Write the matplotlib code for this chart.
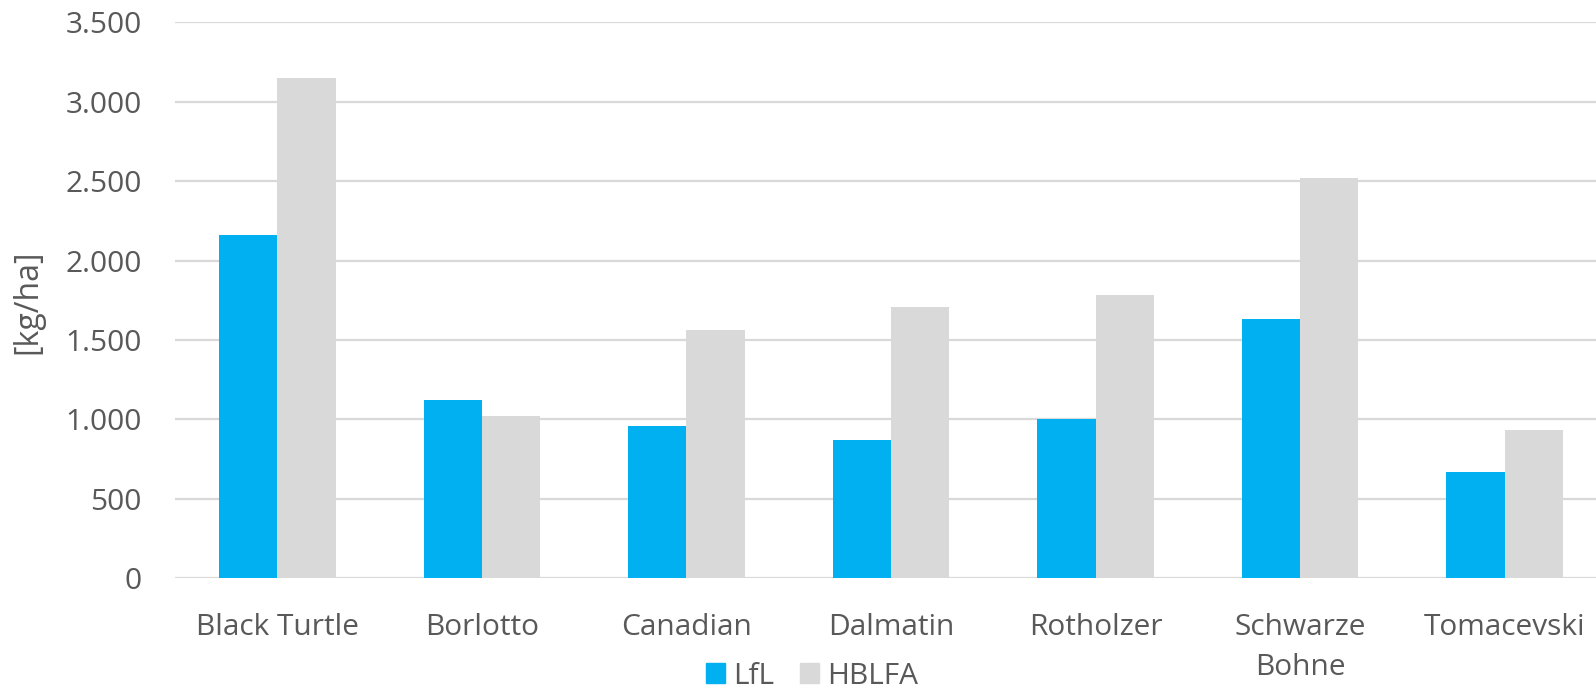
import matplotlib
matplotlib.use("Agg")
import matplotlib.pyplot as plt
import numpy as np
from matplotlib.ticker import FuncFormatter
from matplotlib.patches import Patch

categories = ["Black Turtle", "Borlotto", "Canadian", "Dalmatin", "Rotholzer", "Schwarze\nBohne", "Tomacevski"]
lfl = [2160, 1120, 960, 870, 1000, 1630, 670]
hblfa = [3150, 1020, 1560, 1710, 1780, 2520, 930]
series_names = ["LfL", "HBLFA"]
y_label = "[kg/ha]"

text_color = "#595959"
grid_color = "#D9D9D9"
colors = ["#00B0F0", "#D9D9D9"]

plt.rcParams["font.family"] = ["Open Sans", "DejaVu Sans"]
fs = 21.5

W, H = 1596, 690
fig = plt.figure(figsize=(W / 100, H / 100), dpi=100)
left, right = 175 / W, 1607 / W
bottom, top = 1 - 578 / H, 1 - 22.4 / H
ax = fig.add_axes([left, bottom, right - left, top - bottom])

x = np.arange(len(categories))
bw = 0.285
ax.bar(x - bw / 2, lfl, width=bw, color=colors[0], zorder=3)
ax.bar(x + bw / 2, hblfa, width=bw, color=colors[1], zorder=3)

ax.set_xlim(-0.5, len(categories) - 0.5)
ax.set_ylim(0, 3500)
ax.set_yticks(np.arange(0, 3501, 500))
ax.yaxis.set_major_formatter(FuncFormatter(lambda v, p: f"{int(v):,}".replace(",", ".")))
ax.set_xticks(x)
ax.set_xticklabels(categories, linespacing=1.5)

ax.grid(axis="y", color=grid_color, linewidth=1.6, zorder=0)
ax.set_axisbelow(True)
for s in ax.spines.values():
    s.set_visible(False)
ax.tick_params(axis="both", length=0, labelsize=fs, labelcolor=text_color)
ax.tick_params(axis="y", pad=24)
ax.tick_params(axis="x", pad=25)

fig.text(28 / W, 1 - 302 / H, y_label, rotation=90, ha="center", va="center",
         fontsize=23, color=text_color)

handles = [Patch(color=c) for c in colors]
fig.legend(handles, series_names, loc="center", bbox_to_anchor=(812 / W, 1 - 676 / H),
           ncol=2, frameon=False, fontsize=fs, labelcolor=text_color,
           handlelength=0.64, handleheight=0.64, handletextpad=0.27, columnspacing=0.87,
           borderpad=0.2)

fig.savefig("out.png", dpi=100)
